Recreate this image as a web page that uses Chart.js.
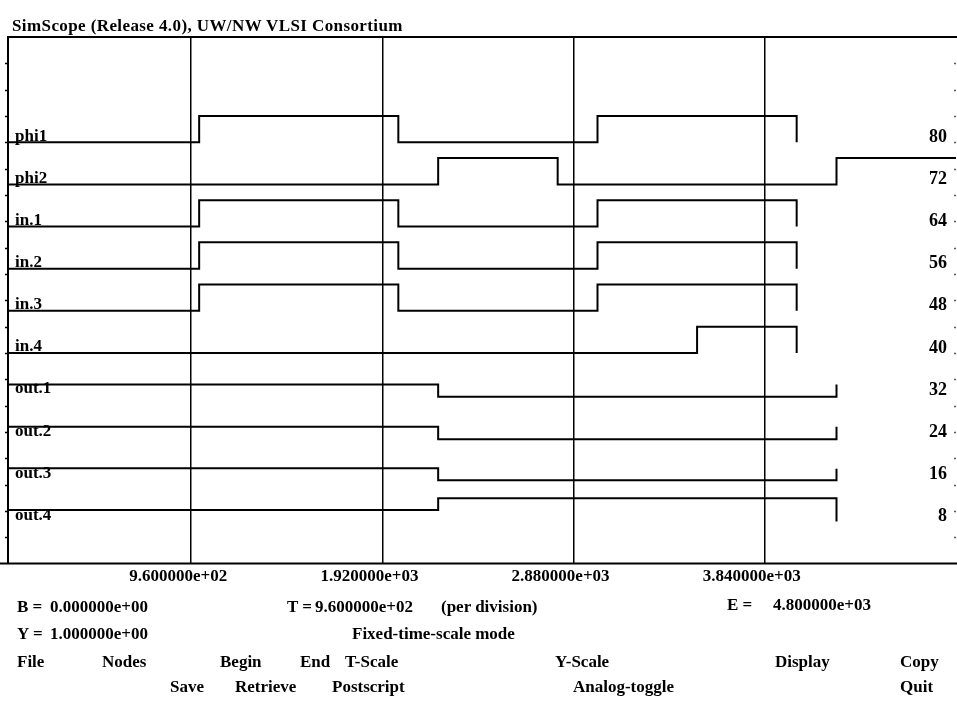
<!DOCTYPE html>
<html>
<head>
<meta charset="utf-8">
<script src="https://cdn.jsdelivr.net/npm/chart.js@4.4.1/dist/chart.umd.min.js"></script>
<style>
html,body{margin:0;padding:0;background:#fff;}
#wrap{position:relative;width:957px;height:709px;overflow:hidden;background:#fff;}
#c{position:absolute;left:0;top:0;}
.t{position:absolute;font-family:"Liberation Serif","Times New Roman",serif;font-weight:bold;font-size:17px;line-height:17px;color:#000;white-space:pre;}
</style>
</head>
<body>
<div id="wrap">
<canvas id="c" width="957" height="709"></canvas>
<div class="t" style="left:12px;top:17px;letter-spacing:0.4px">SimScope (Release 4.0), UW/NW VLSI Consortium</div>

<div class="t" style="left:17px;top:598px">B =</div>
<div class="t" style="left:50px;top:598px">0.000000e+00</div>
<div class="t" style="left:287px;top:598px">T =</div>
<div class="t" style="left:315px;top:598px">9.600000e+02</div>
<div class="t" style="left:441px;top:598px">(per division)</div>
<div class="t" style="left:727px;top:596px">E =</div>
<div class="t" style="left:773px;top:596px">4.800000e+03</div>

<div class="t" style="left:17px;top:625px">Y =</div>
<div class="t" style="left:50px;top:625px">1.000000e+00</div>
<div class="t" style="left:352px;top:625px">Fixed-time-scale mode</div>

<div class="t" style="left:17px;top:653px">File</div>
<div class="t" style="left:102px;top:653px">Nodes</div>
<div class="t" style="left:220px;top:653px">Begin</div>
<div class="t" style="left:300px;top:653px">End</div>
<div class="t" style="left:345px;top:653px">T-Scale</div>
<div class="t" style="left:555px;top:653px">Y-Scale</div>
<div class="t" style="left:775px;top:653px">Display</div>
<div class="t" style="left:900px;top:653px">Copy</div>

<div class="t" style="left:170px;top:678px">Save</div>
<div class="t" style="left:235px;top:678px">Retrieve</div>
<div class="t" style="left:332px;top:678px">Postscript</div>
<div class="t" style="left:573px;top:678px">Analog-toggle</div>
<div class="t" style="left:900px;top:678px">Quit</div>
</div>

<script>
// ---- data (time, level) ----
const timeTicks = [960, 1920, 2880, 3840];
const timeTickLabels = ['9.600000e+02', '1.920000e+03', '2.880000e+03', '3.840000e+03'];
const nodeNames = ['phi1', 'phi2', 'in.1', 'in.2', 'in.3', 'in.4', 'out.1', 'out.2', 'out.3', 'out.4'];
const nodeLevels = [80, 72, 64, 56, 48, 40, 32, 24, 16, 8];
const levelLabels = ['80', '72', '64', '56', '48', '40', '32', '24', '16', '8'];
const frameTickValues = [5, 10, 15, 20, 25, 30, 35, 40, 45, 50, 55, 60, 65, 70, 75, 80, 85, 90, 95];

const phi1 = [[40, 80], [1000, 85], [2000, 80], [3000, 85], [4000, 80]];
const phi2 = [[40, 72], [2200, 77], [2800, 72], [4200, 77], [4800, 77]];
const in1  = [[40, 64], [1000, 69], [2000, 64], [3000, 69], [4000, 64]];
const in2  = [[40, 56], [1000, 61], [2000, 56], [3000, 61], [4000, 56]];
const in3  = [[40, 48], [1000, 53], [2000, 48], [3000, 53], [4000, 48]];
const in4  = [[40, 40], [3500, 45], [4000, 40]];
const out1 = [[40, 34], [2200, 31.7], [4200, 34]];
const out2 = [[40, 26], [2200, 23.6], [4200, 26]];
const out3 = [[40, 18.1], [2200, 15.85], [4200, 18]];
const out4 = [[40, 10.2], [2200, 12.4], [4200, 8]];

const signals = [phi1, phi2, in1, in2, in3, in4, out1, out2, out3, out4];

const FONT = '"Liberation Serif", "Times New Roman", serif';

const framePlugin = {
  id: 'frame',
  afterDatasetsDraw(chart) {
    const ctx = chart.ctx;
    const area = chart.chartArea;
    const y = chart.scales.yName;
    const W = chart.width;
    const fx = area.left + 8;
    ctx.save();
    ctx.strokeStyle = '#000';
    ctx.lineWidth = 2;
    ctx.beginPath();
    ctx.moveTo(fx - 1, area.top); ctx.lineTo(W, area.top);
    ctx.moveTo(0, area.bottom); ctx.lineTo(W, area.bottom);
    ctx.moveTo(fx, area.top); ctx.lineTo(fx, area.bottom);
    ctx.stroke();
    ctx.lineWidth = 1.5;
    ctx.beginPath();
    frameTickValues.forEach(v => {
      const py = Math.round(y.getPixelForValue(v)) + 0.5;
      ctx.moveTo(fx - 3, py); ctx.lineTo(fx, py);
    });
    ctx.stroke();
    ctx.strokeStyle = '#555';
    ctx.lineWidth = 1.5;
    ctx.beginPath();
    frameTickValues.forEach(v => {
      const py = Math.round(y.getPixelForValue(v)) + 0.5;
      ctx.moveTo(W - 3, py); ctx.lineTo(W - 1, py);
    });
    ctx.stroke();
    ctx.restore();
  }
};

const datasets = signals.map((s, i) => ({
  label: nodeNames[i],
  data: s.map(p => ({ x: p[0], y: p[1] })),
  borderColor: '#000',
  borderWidth: 2,
  pointRadius: 0,
  fill: false,
  stepped: true,
  tension: 0,
  yAxisID: 'yName'
}));

new Chart(document.getElementById('c'), {
  type: 'line',
  data: { datasets },
  plugins: [framePlugin],
  options: {
    responsive: false,
    animation: false,
    devicePixelRatio: 1,
    events: [],
    layout: { padding: { top: 37, left: 0, right: 1, bottom: 119 } },
    plugins: { legend: { display: false }, tooltip: { enabled: false }, title: { display: false } },
    scales: {
      x: {
        type: 'linear',
        min: 0,
        max: 4800,
        afterBuildTicks: s => { s.ticks = timeTicks.map(v => ({ value: v })); },
        ticks: {
          autoSkip: false,
          maxRotation: 0,
          padding: 3,
          labelOffset: -13,
          color: '#000',
          font: { family: FONT, size: 17, weight: 'bold' },
          callback: v => timeTickLabels[timeTicks.indexOf(v)]
        },
        grid: { color: '#000', lineWidth: 1.5, drawTicks: false },
        border: { display: false }
      },
      yName: {
        type: 'linear',
        position: 'left',
        min: 0,
        max: 100,
        afterBuildTicks: s => { s.ticks = nodeLevels.map(v => ({ value: v })); },
        afterFit: s => { s.width = 0; },
        ticks: {
          mirror: true,
          padding: 15,
          labelOffset: -6,
          color: '#000',
          font: { family: FONT, size: 17, weight: 'bold' },
          callback: v => nodeNames[nodeLevels.indexOf(v)]
        },
        grid: { display: false },
        border: { display: false }
      },
      yVal: {
        type: 'linear',
        position: 'right',
        min: 0,
        max: 100,
        afterBuildTicks: s => { s.ticks = nodeLevels.map(v => ({ value: v })); },
        afterFit: s => { s.width = 0; },
        ticks: {
          mirror: true,
          padding: -9,
          labelOffset: -5,
          color: '#000',
          font: { family: FONT, size: 18, weight: 'bold' },
          callback: v => levelLabels[nodeLevels.indexOf(v)]
        },
        grid: { display: false },
        border: { display: false }
      }
    }
  }
});
</script>
</body>
</html>
